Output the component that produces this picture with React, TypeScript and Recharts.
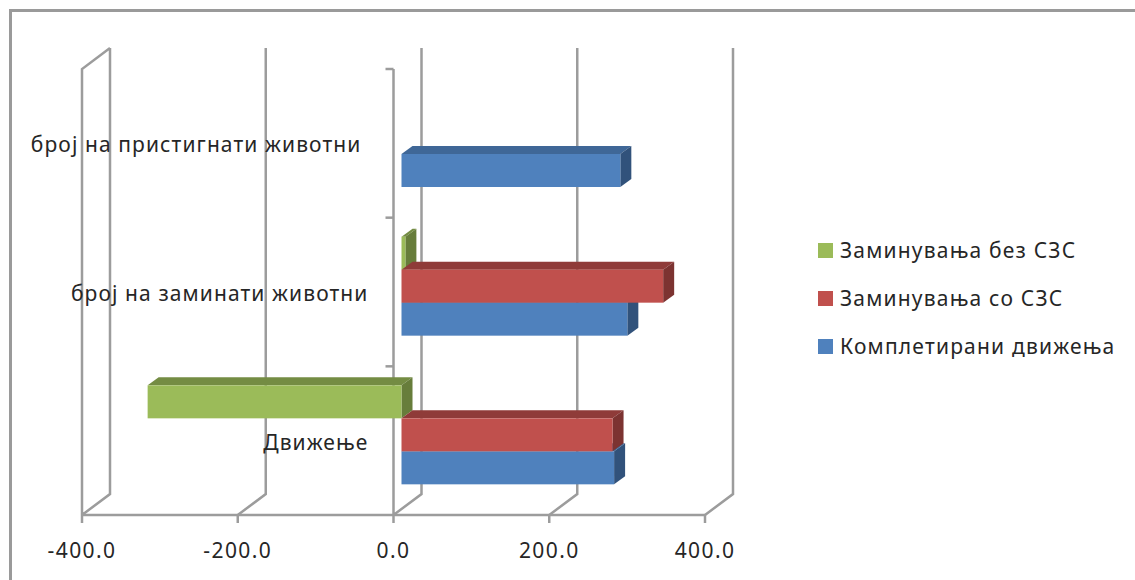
import { BarChart, Bar, XAxis, YAxis, CartesianGrid, Legend } from 'recharts';

const categories = ['Движење', 'број на заминати животни', 'број на пристигнати животни'];
const completedMoves = [273, 290, 281];
const deathsWithDoc = [271, 336, null];
const deathsWithoutDoc = [-326, 5, null];
const xTicks = [-400, -200, 0, 200, 400];

const data = categories.map((name, i) => ({
  name,
  completed: completedMoves[i],
  withDoc: deathsWithDoc[i],
  withoutDoc: deathsWithoutDoc[i],
}));

// legend reads top to bottom in this order
const legendOrder = ['withoutDoc', 'withDoc', 'completed'];

const FONT = '"Noto Sans", sans-serif';
const GRID = '#9c9c9c';
const TEXT = '#262626';

const PLOT = { left: 82, top: 69, right: 705, bottom: 515 };
const ZERO_X = (PLOT.left + PLOT.right) / 2;
const BAND = (PLOT.bottom - PLOT.top) / categories.length;

// fake 3D: wall depth, box depth and how far a box sits from the front plane
const WALL = { dx: 28, dy: 21 };
const BOX = { dx: 11, dy: 8 };
const INSET = { dx: 8, dy: 6 };
const BAR_SIZE = 33;

function Box3D(props: any) {
  const { x, y, width, height, value, fill, topFill, sideFill, slot = 0 } = props;
  if (value == null || !width) return null;
  const left = Math.min(x, x + width) + INSET.dx;
  const right = Math.max(x, x + width) + INSET.dx;
  const t = y - INSET.dy + slot * BAR_SIZE;
  const b = t + height;
  return (
    <g>
      <polygon
        points={`${left},${t} ${right},${t} ${right + BOX.dx},${t - BOX.dy} ${left + BOX.dx},${t - BOX.dy}`}
        fill={topFill}
      />
      <polygon
        points={`${right},${t} ${right + BOX.dx},${t - BOX.dy} ${right + BOX.dx},${b - BOX.dy} ${right},${b}`}
        fill={sideFill}
      />
      <rect x={left} y={t} width={right - left} height={height} fill={fill} />
    </g>
  );
}

function WallLine(props: any) {
  const { x1, y1, y2, index } = props;
  const backX = x1 + WALL.dx;
  const topY = y1 - WALL.dy;
  const floorY = y2 - WALL.dy;
  let d = `M${x1},${y2} L${backX},${floorY} L${backX},${topY}`;
  // left wall edge and the category axis on the front plane
  if (index === 0) d += ` M${x1},${y2} L${x1},${y1} L${backX},${topY}`;
  if (x1 === ZERO_X) d += ` M${x1},${y2} L${x1},${y1}`;
  return <path key={`wall-${index}`} d={d} fill="none" stroke={GRID} strokeWidth={2.5} />;
}

function CategoryTick(props: any) {
  const { y, index, payload } = props;
  const tickY = y - BAND / 2;
  const labelX = index === 2 ? ZERO_X - 32 : ZERO_X - 25;
  return (
    <g>
      <line x1={ZERO_X - 8} y1={tickY} x2={ZERO_X} y2={tickY} stroke={GRID} strokeWidth={2.5} />
      <text x={labelX} y={y + 9} textAnchor="end" fontFamily={FONT} fontSize={21} letterSpacing={1.1} fill={TEXT}>
        {payload.value}
      </text>
    </g>
  );
}

function LegendBox({ payload }: any) {
  const items = [...(payload ?? [])].sort(
    (a: any, b: any) => legendOrder.indexOf(a.dataKey) - legendOrder.indexOf(b.dataKey),
  );
  return (
    <div>
      {items.map((item: any) => (
        <div key={item.dataKey} style={{ display: 'flex', alignItems: 'center', height: 48 }}>
          <span style={{ width: 15, height: 15, background: item.color, marginRight: 7 }} />
          <span style={{ fontFamily: FONT, fontSize: 21, letterSpacing: 1.2, color: TEXT, whiteSpace: 'nowrap' }}>
            {item.value}
          </span>
        </div>
      ))}
    </div>
  );
}

export default function App() {
  return (
    <div
      style={{
        position: 'absolute',
        left: 0,
        top: 0,
        width: 1135,
        height: 580,
        background: '#fff',
        overflow: 'hidden',
      }}
    >
      <div
        style={{
          position: 'absolute',
          left: 9,
          top: 9,
          width: 1140,
          height: 600,
          border: '3px solid #9a9a9a',
          boxSizing: 'border-box',
        }}
      />
      <BarChart
        width={1135}
        height={580}
        layout="vertical"
        data={data}
        barSize={BAR_SIZE}
        barGap={0}
        margin={{ top: PLOT.top, left: PLOT.left - 1, right: 1135 - PLOT.right, bottom: 580 - PLOT.bottom - 65 }}
        style={{ position: 'absolute', left: 0, top: 0 }}
      >
        <CartesianGrid horizontal={false} vertical={WallLine} />
        <XAxis
          type="number"
          domain={[-400, 400]}
          ticks={xTicks}
          interval={0}
          tickFormatter={(v: number) => v.toFixed(1)}
          tickSize={8}
          tickMargin={20}
          height={65}
          stroke={GRID}
          strokeWidth={2.5}
          tick={{ fill: TEXT, fontFamily: FONT, fontSize: 21, letterSpacing: 1.4 }}
        />
        <YAxis
          type="category"
          dataKey="name"
          reversed
          width={1}
          interval={0}
          axisLine={false}
          tickLine={false}
          tick={CategoryTick}
        />
        <Legend
          layout="horizontal"
          align="center"
          verticalAlign="middle"
          content={LegendBox}
          wrapperStyle={{ left: 818, top: 226, width: 310, bottom: 'auto', right: 'auto' }}
        />
        {/* drawn green, blue, red so red hides blue's top face; slot moves blue/red back under each other */}
        <Bar
          dataKey="withoutDoc"
          name="Заминувања без СЗС"
          fill="#9bbb59"
          isAnimationActive={false}
          shape={(p: any) => <Box3D {...p} topFill="#748c43" sideFill="#677d3b" />}
        />
        <Bar
          dataKey="completed"
          name="Комплетирани движења"
          fill="#4f81bd"
          isAnimationActive={false}
          shape={(p: any) => <Box3D {...p} topFill="#3f6797" sideFill="#31527b" slot={1} />}
        />
        <Bar
          dataKey="withDoc"
          name="Заминувања со СЗС"
          fill="#c0504d"
          isAnimationActive={false}
          shape={(p: any) => <Box3D {...p} topFill="#8f3b39" sideFill="#7c3331" slot={-1} />}
        />
      </BarChart>
    </div>
  );
}
